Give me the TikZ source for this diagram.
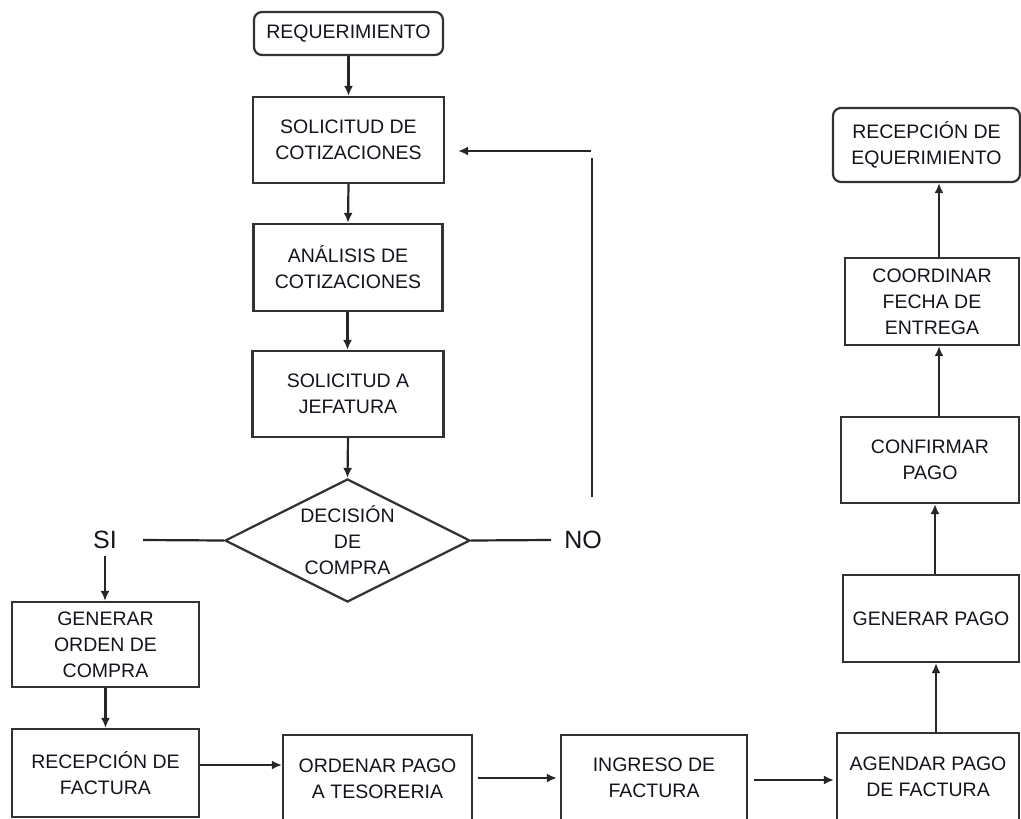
\documentclass[tikz,border=0pt]{standalone}
\usepackage{fontspec}
\setmainfont{Liberation Sans}
\usetikzlibrary{arrows.meta,shapes.geometric}
\definecolor{boxline}{RGB}{50,50,50}
\definecolor{txt}{RGB}{20,20,30}
\tikzset{
  box/.style={draw=boxline, line width=2.2pt, fill=white, align=center, inner sep=0pt,
    font=\fontsize{19.5}{26}\selectfont, text=txt},
  rbox/.style={box, rounded corners=8pt},
  dia/.style={draw=boxline, line width=2.2pt, diamond, aspect=2, inner sep=0pt, align=center,
    minimum width=245pt, minimum height=123pt, font=\fontsize{19.5}{26}\selectfont, text=txt},
  lab/.style={font=\fontsize{25}{28}\selectfont, text=txt, inner sep=3pt},
  arr/.style={line width=2.2pt, draw=black!85, -{Latex[length=10pt,width=9pt]}},
  ln/.style={line width=2.2pt, draw=black!85},
}
\begin{document}
\begin{tikzpicture}[x=1pt,y=-1pt]
\useasboundingbox (0,0) rectangle (1021,819);
\clip (0,0) rectangle (1021,819);
% left column
\node[rbox, minimum width=189pt, minimum height=43pt] (req) at (348.5,33.5) {REQUERIMIENTO};
\node[box, minimum width=191pt, minimum height=86pt] (sol) at (348.5,140) {SOLICITUD DE\\COTIZACIONES};
\node[box, minimum width=189pt, minimum height=87pt] (ana) at (348,267.5) {ANÁLISIS DE\\COTIZACIONES};
\node[box, minimum width=191pt, minimum height=86pt] (jef) at (348,394) {SOLICITUD A\\JEFATURA};
\node[dia] (dec) at (347.5,540.5) {DECISIÓN\\DE\\COMPRA};
\node[lab] (si) at (105,540) {SI};
\node[lab] (no) at (583,540) {NO};
\node[box, minimum width=187pt, minimum height=85pt] (gen) at (105.5,644.5) {GENERAR\\ORDEN DE\\COMPRA};
\node[box, minimum width=187pt, minimum height=88pt] (rec) at (105.5,773) {RECEPCIÓN DE\\FACTURA};
% bottom row
\node[box, minimum width=189pt, minimum height=88pt] (ord) at (377.5,779) {ORDENAR PAGO\\A TESORERIA};
\node[box, minimum width=186pt, minimum height=85pt] (ing) at (654,777.5) {INGRESO DE\\FACTURA};
\node[box, minimum width=182pt, minimum height=88pt] (age) at (928,777) {AGENDAR PAGO\\DE FACTURA};
% right column
\node[box, minimum width=176pt, minimum height=87pt] (gpa) at (931,618.5) {GENERAR PAGO};
\node[box, minimum width=178pt, minimum height=86pt] (con) at (930,460) {CONFIRMAR\\PAGO};
\node[box, minimum width=174pt, minimum height=87pt] (coo) at (932,301.5) {COORDINAR\\FECHA DE\\ENTREGA};
\node[rbox, minimum width=187pt, minimum height=74pt] (rde) at (926.5,145) {RECEPCIÓN DE\\EQUERIMIENTO};
% helper coordinates
\coordinate (siend) at (143,540);
\coordinate (noend) at (551,540);
\coordinate (nobot) at (592,497);
\coordinate (notop) at (592,158);
\coordinate (noh) at (591,151);
% connectors left column
\draw[arr] (req.south) -- (sol.north);
\draw[arr] (sol.south) -- (ana.north);
\draw[arr] ([xshift=-0.5pt]ana.south) -- ([xshift=-0.5pt]ana.south |- jef.north);
\draw[arr] (jef.south) -- (dec.north);
\draw[ln] (dec.west) -- (siend);
\draw[ln] (dec.east) -- (noend);
\draw[ln] (nobot) -- (notop);
\draw[arr, shorten >=13pt] (noh) -- (noh -| sol.east);
\draw[arr, shorten <=4pt] (si.south) -- (si.south |- gen.north);
\draw[arr] (gen.south) -- (rec.north);
% bottom row
\draw[arr] ([yshift=8pt]rec.east) -- ([yshift=8pt]rec.east -| ord.west);
\draw[arr, shorten <=5pt, shorten >=3pt] ([yshift=1pt]ord.east) -- ([yshift=1pt]ord.east -| ing.west);
\draw[arr, shorten <=6pt, shorten >=2pt] ([yshift=-2.5pt]ing.east) -- ([yshift=-2.5pt]ing.east -| age.west);
% right column
\draw[arr] ([xshift=8pt]age.north) -- ([xshift=8pt]age.north |- gpa.south);
\draw[arr] ([xshift=4pt]gpa.north) -- ([xshift=4pt]gpa.north |- con.south);
\draw[arr] ([xshift=9pt]con.north) -- ([xshift=9pt]con.north |- coo.south);
\draw[arr] ([xshift=7pt]coo.north) -- ([xshift=7pt]coo.north |- rde.south);
\end{tikzpicture}
\end{document}
